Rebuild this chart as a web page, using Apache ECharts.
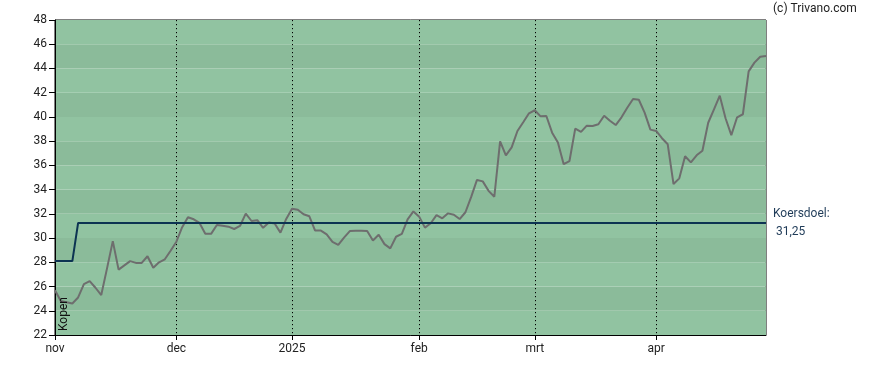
<!DOCTYPE html>
<html>
<head>
<meta charset="utf-8">
<script src="https://cdn.jsdelivr.net/npm/echarts@6/dist/echarts.min.js"></script>
<style>html,body{margin:0;padding:0;background:#fff}#c{width:888px;height:370px}</style>
</head>
<body>
<div id="c"></div>
<script>
// Trading days per month (Nov 2024 .. Apr 2025)
const tradingDays = {
  '2024-11': [1,4,5,6,7,8,11,12,13,14,15,18,19,20,21,22,25,26,27,28,29],
  '2024-12': [2,3,4,5,6,9,10,11,12,13,16,17,18,19,20,23,24,27,30,31],
  '2025-01': [2,3,6,7,8,9,10,13,14,15,16,17,20,21,22,23,24,27,28,29,30,31],
  '2025-02': [3,4,5,6,7,10,11,12,13,14,17,18,19,20,21,24,25,26,27,28],
  '2025-03': [3,4,5,6,7,10,11,12,13,14,17,18,19,20,21,24,25,26,27,28,31],
  '2025-04': [1,2,3,4,7,8,9,10,11,14,15,16,17,22,23,24,25,28,29,30]
};
const monthTickLabels = {'2024-11-01':'nov','2024-12-02':'dec','2025-01-02':'2025','2025-02-03':'feb','2025-03-03':'mrt','2025-04-01':'apr'};

const price = [
 25.7,24.8,24.7,24.6,25.1,26.2,26.45,25.9,25.3,27.5,
 29.75,27.4,27.75,28.1,27.95,27.95,28.5,27.55,28.0,28.25,
 28.95,29.7,30.9,31.72,31.55,31.25,30.35,30.35,31.08,31.02,
 30.94,30.75,31.0,32.02,31.41,31.48,30.85,31.28,31.2,30.45,
 31.58,32.42,32.34,31.97,31.8,30.62,30.62,30.3,29.68,29.43,
 30.03,30.58,30.6,30.61,30.58,29.8,30.28,29.5,29.15,30.11,
 30.34,31.55,32.2,31.77,30.86,31.22,31.9,31.63,32.04,31.93,
 31.57,32.13,33.4,34.8,34.68,33.9,33.41,37.99,36.83,37.49,
 38.84,39.56,40.3,40.55,40.05,40.08,38.7,37.88,36.1,36.36,
 39.03,38.76,39.28,39.25,39.39,40.1,39.69,39.33,39.97,40.76,
 41.48,41.42,40.35,38.95,38.84,38.24,37.74,34.46,34.93,36.75,
 36.25,36.83,37.21,39.52,40.63,41.75,39.89,38.5,39.97,40.22,
 43.76,44.48,44.97,45.03
];
// Koersdoel (target): 28.1 for first days, then 31.25
const targetBefore = 28.1, targetAfter = 31.25, targetChangeIndex = 4;
const yTicks = {min: 22, max: 48, interval: 2};

const dates = [];
Object.keys(tradingDays).forEach(m => tradingDays[m].forEach(d => dates.push(m + '-' + String(d).padStart(2,'0'))));
const target = dates.map((d,i) => i < targetChangeIndex ? targetBefore : targetAfter);
const isTick = (i) => monthTickLabels[dates[i]] !== undefined;

const chart = echarts.init(document.getElementById('c'), null, {renderer:'canvas'});
const font = 'Roboto, "Liberation Sans", Arial, sans-serif';
chart.setOption({
  animation: false,
  backgroundColor: '#ffffff',
  grid: {left: 55, right: 122, top: 20, bottom: 35, show: true, borderColor: '#000', borderWidth: 1, backgroundColor: 'transparent'},
  xAxis: {
    type: 'category', data: dates, boundaryGap: false,
    axisLine: {show: true, lineStyle: {color: '#000', width: 1}},
    axisTick: {show: true, interval: (i) => isTick(i), length: 5, lineStyle: {color: '#000'}},
    axisLabel: {interval: (i) => isTick(i), formatter: (v) => monthTickLabels[v] || '', color: '#222', fontSize: 12, fontFamily: font, margin: 8},
    splitLine: {show: true, interval: (i) => isTick(i) && i > 0, lineStyle: {color: '#000', type: [1.2, 2.8], width: 1}}
  },
  yAxis: {
    type: 'value', min: yTicks.min, max: yTicks.max, interval: yTicks.interval,
    axisLine: {show: true, lineStyle: {color: '#000'}},
    axisTick: {show: true, length: 6, lineStyle: {color: '#000'}},
    axisLabel: {color: '#222', fontSize: 12, fontFamily: font, margin: 8},
    splitLine: {show: false},
    splitArea: {show: true, areaStyle: {color: ['#91c3a1', '#8bbb9a']}}
  },
  series: [
    {type: 'line', data: price, symbol: 'none', lineStyle: {color: '#6e6e6e', width: 2}, z: 3},
    {type: 'line', data: target, symbol: 'none', lineStyle: {color: '#0c3352', width: 2}, z: 4,
     endLabel: {show: true, formatter: 'Koersdoel:\n 31,25', color: '#1f3b58', fontSize: 12, fontFamily: font, lineHeight: 18, distance: 7}}
  ],
  graphic: [
    {type: 'text', left: 773, top: 3, style: {text: '(c) Trivano.com', fill: '#222', font: '12px ' + font}},
    {type: 'text', left: 58, bottom: 39, rotation: Math.PI / 2, z: 100, style: {text: 'Kopen', fill: '#111', font: '12px ' + font}}
  ]
});
</script>
</body>
</html>
